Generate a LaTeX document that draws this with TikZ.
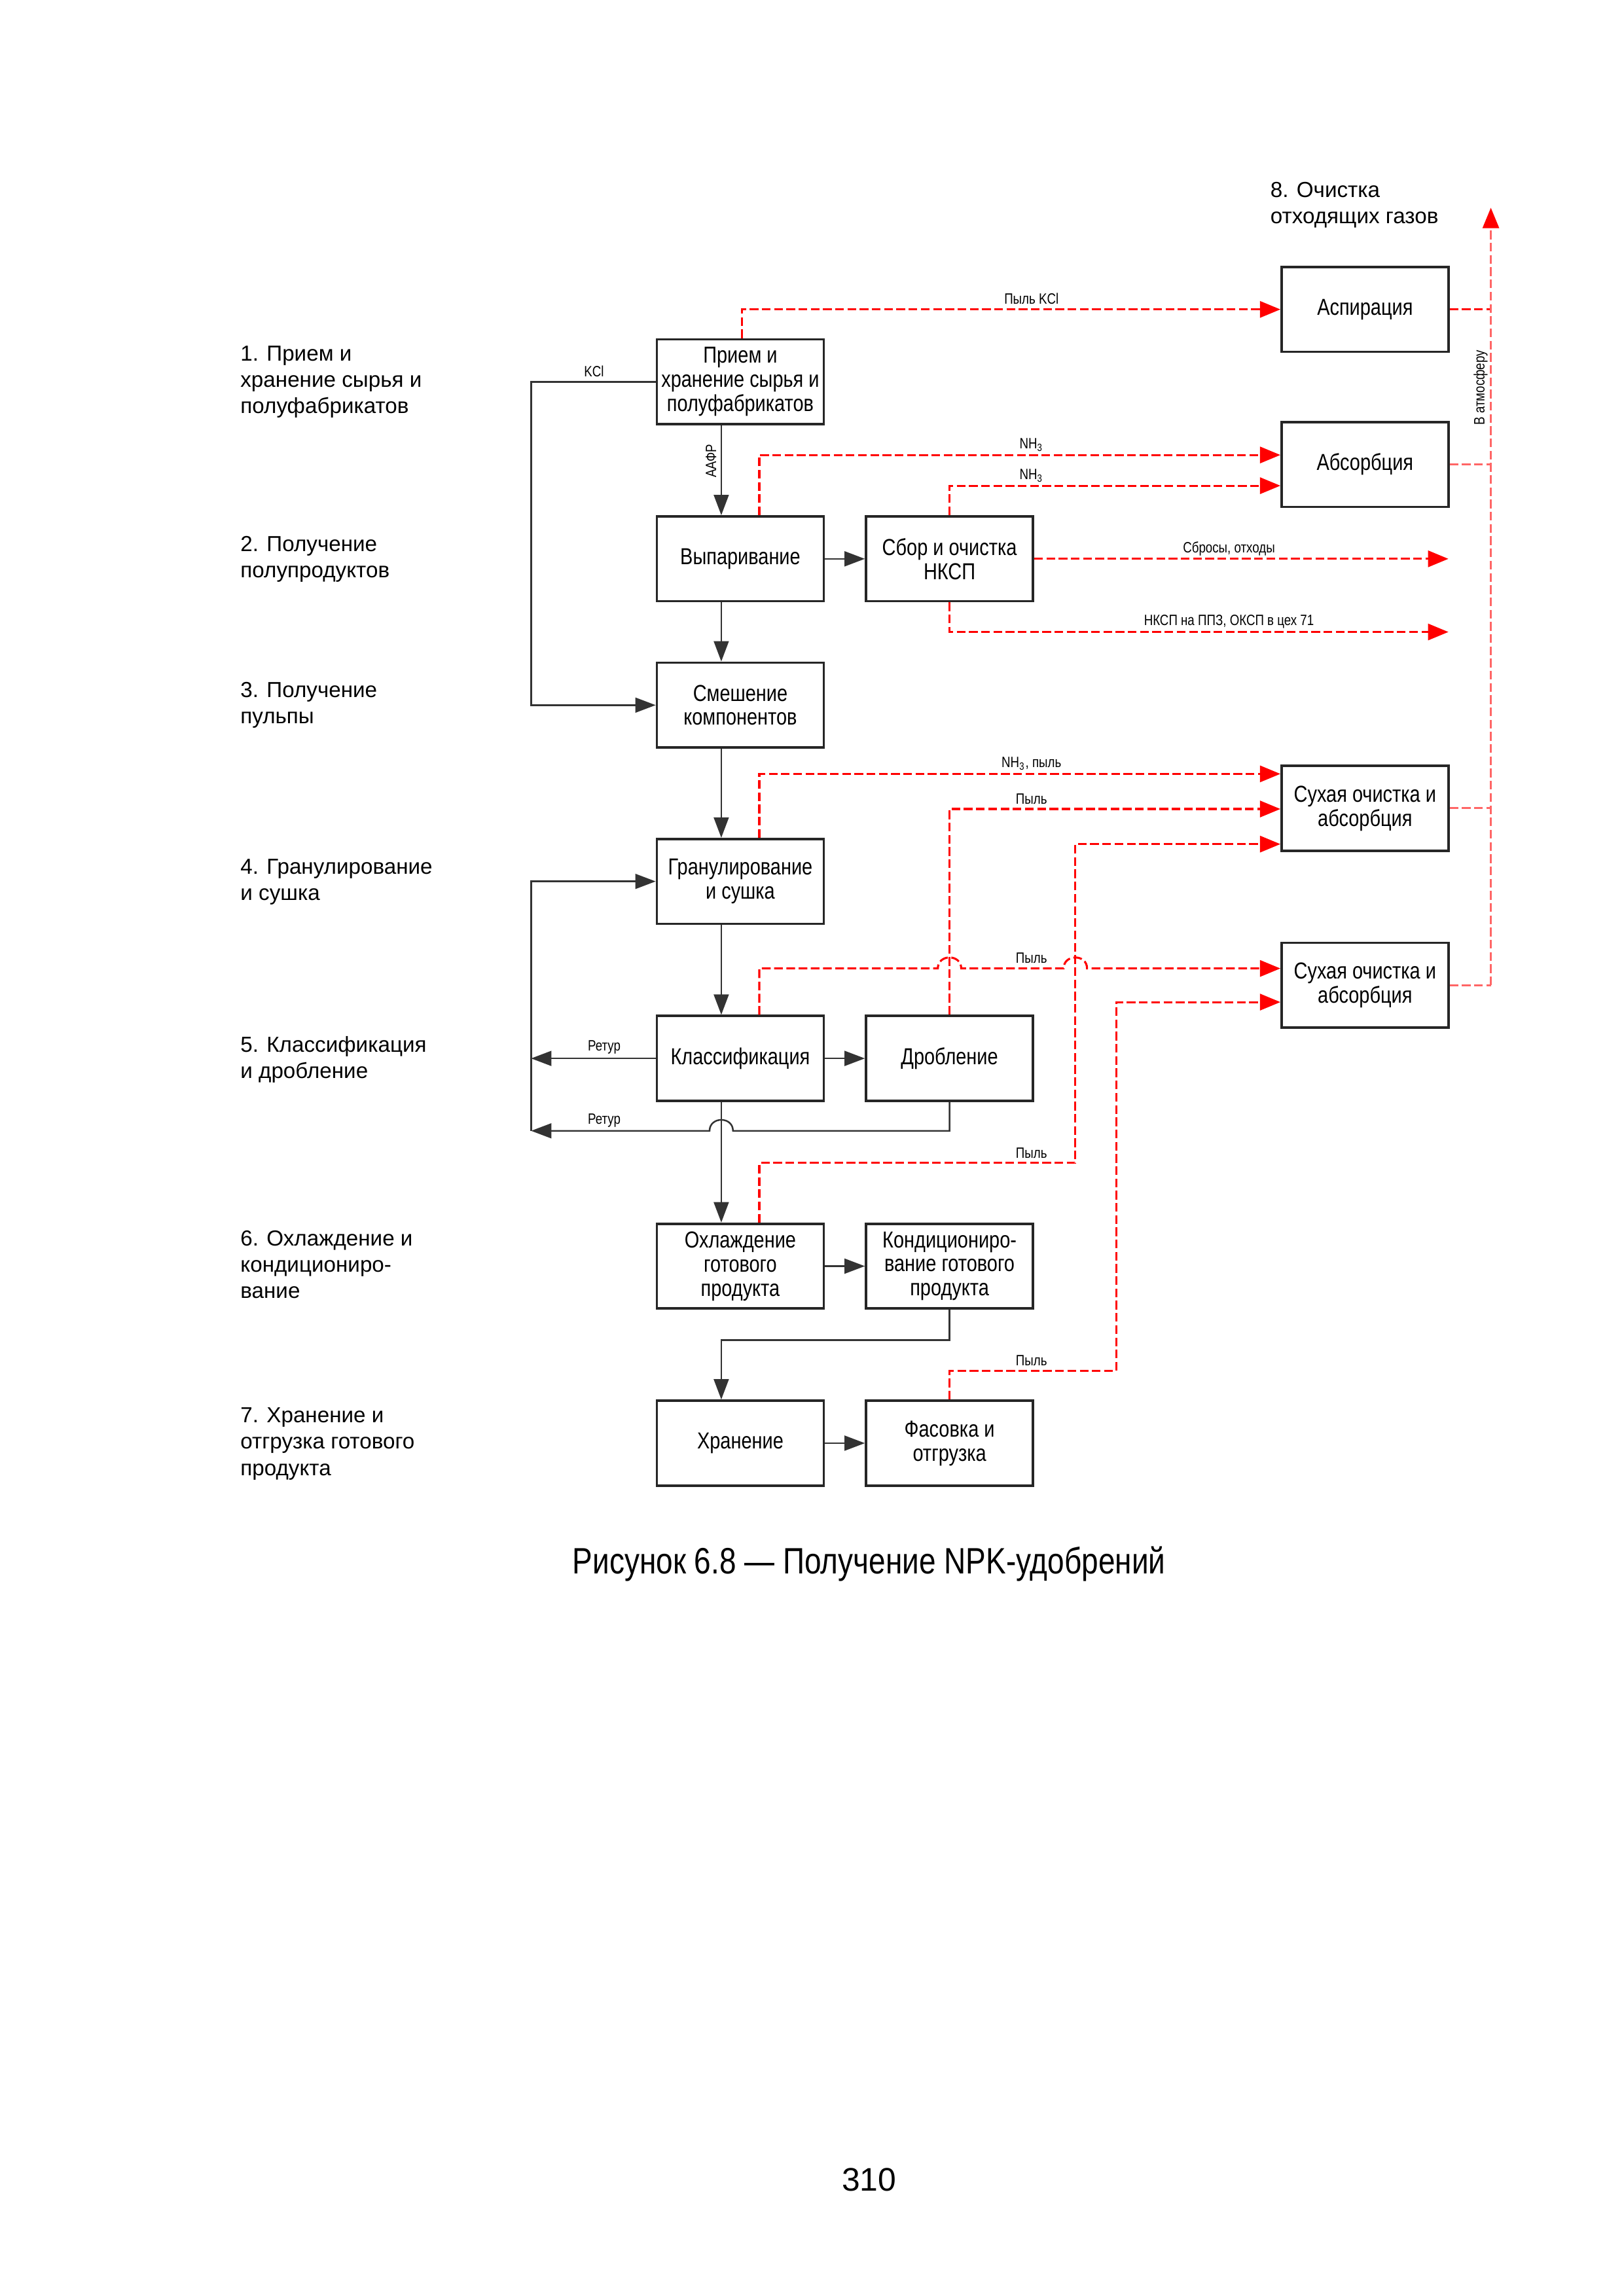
\documentclass[tikz,border=0pt]{standalone}
\usepackage{fontspec}
\setmainfont{Liberation Sans}
\newfontfamily\nar[FakeStretch=0.82]{Liberation Sans}
\usetikzlibrary{arrows.meta}
\definecolor{rd}{rgb}{1,0,0}
\begin{document}
\begin{tikzpicture}[x=0.018919cm, y=-0.018919cm,
  box/.style={draw=black!85, line width=0.9pt, minimum width=2.157cm, minimum height=1.097cm,
    inner sep=1pt, align=center, font=\nar\fontsize{8.5}{8.9}\selectfont},
  bln/.style={draw=black!80, line width=0.6pt},
  blk/.style={bln, -{Triangle[length=7.5pt,width=5.5pt]}},
  rln/.style={draw=rd, line width=0.75pt, dash pattern=on 3.2pt off 1.3pt},
  rarr/.style={rln, -{Triangle[length=7.5pt,width=6pt]}},
  pln/.style={draw=rd!60, line width=0.7pt, dash pattern=on 3.2pt off 1.3pt},
  lbl/.style={font=\nar\fontsize{5.5}{6}\selectfont, inner sep=0pt},
  stage/.style={anchor=north west, inner sep=0pt, align=left, font=\fontsize{8}{9.65}\selectfont}
]
\useasboundingbox (0,0) rectangle (1110,1569.5);

% stage labels
\node[stage] (s1) at (164,236) {1. Прием и\\хранение сырья и\\полуфабрикатов};
\node[stage] (s2) at (164,366) {2. Получение\\полупродуктов};
\node[stage] (s3) at (164,466) {3. Получение\\пульпы};
\node[stage] (s4) at (164,587) {4. Гранулирование\\и сушка};
\node[stage] (s5) at (164,708) {5. Классификация\\и дробление};
\node[stage] (s6) at (164,841) {6. Охлаждение и\\кондициониро-\\вание};
\node[stage] (s7) at (164,962) {7. Хранение и\\отгрузка готового\\продукта};
\node[stage] (s8) at (868,124) {8. Очистка\\отходящих газов};

% boxes
\node[box] (priem) at (506,261) {Прием и\\хранение сырья и\\полуфабрикатов};
\node[box] (vyp)   at (506,382) {Выпаривание};
\node[box] (sbor)  at (649,382) {Сбор и очистка\\НКСП};
\node[box] (smesh) at (506,482) {Смешение\\компонентов};
\node[box] (gran)  at (506,602.5) {Гранулирование\\и сушка};
\node[box] (klass) at (506,723.5) {Классификация};
\node[box] (drob)  at (649,723.5) {Дробление};
\node[box] (ohl)   at (506,865.5) {Охлаждение\\готового\\продукта};
\node[box] (kond)  at (649,865.5) {Кондициониро-\\вание готового\\продукта};
\node[box] (hran)  at (506,986.5) {Хранение};
\node[box] (fas)   at (649,986.5) {Фасовка и\\отгрузка};
\node[box] (asp)   at (933,211.5) {Аспирация};
\node[box] (abs)   at (933,317.5) {Абсорбция};
\node[box] (suh1)  at (933,552.5) {Сухая очистка и\\абсорбция};
\node[box] (suh2)  at (933,673.5) {Сухая очистка и\\абсорбция};

% helper coordinates
\coordinate (cA) at (493,0);
\coordinate (c507) at (507,0);
\coordinate (c519) at (519,0);
\coordinate (ret) at (363,0);
\coordinate (kcl) at (363,300);
\coordinate (rj1) at (501,773);
\coordinate (rj2) at (485,773);
\coordinate (kb) at (493,916);
\coordinate (y311) at (0,311);
\coordinate (y332) at (0,332);
\coordinate (y529) at (0,529);
\coordinate (y553) at (0,553);
\coordinate (y577) at (0,577);
\coordinate (y685) at (0,685);
\coordinate (out1) at (990,382);
\coordinate (out2) at (990,432);
\coordinate (j1a) at (641,662);
\coordinate (j1b) at (657,662);
\coordinate (j2a) at (727,662);
\coordinate (j2b) at (743,662);
\coordinate (p795a) at (519,795);
\coordinate (p795b) at (735,795);
\coordinate (p937a) at (649,937);
\coordinate (p937b) at (763,937);
\coordinate (atm) at (1019,142);

% black connectors
\draw[blk] (priem.west) -| (kcl) |- (smesh.west);
\node[lbl] (lkcl) at (406,254) {KCl};
\draw[blk] (priem.south -| cA) -- (vyp.north -| cA);
\node[lbl, rotate=90] (laf) at (486,315) {ААФР};
\draw[blk] (vyp.east) -- (sbor.west);
\draw[blk] (vyp.south -| cA) -- (smesh.north -| cA);
\draw[blk] (smesh.south -| cA) -- (gran.north -| cA);
\draw[blk] (ret |- rj2) |- (gran.west);
\draw[blk] (gran.south -| cA) -- (klass.north -| cA);
\draw[blk] (klass.east) -- (drob.west);
\draw[blk] (klass.west) -- (klass.west -| ret);
\node[lbl] (lret1) at (413,716) {Ретур};
\draw[blk] (drob.south) |- (rj1) .. controls (501,763) and (485,763) .. (rj2) -- (ret |- rj2);
\node[lbl] (lret2) at (413,766) {Ретур};
\draw[blk] (klass.south -| cA) -- (ohl.north -| cA);
\draw[blk] (ohl.east) -- (kond.west);
\draw[blk] (kond.south) |- (kb) -- (hran.north -| cA);
\draw[blk] (hran.east) -- (fas.west);

% red connectors
\draw[rarr] (priem.north -| c507) |- (asp.west);
\node[lbl] (l1) at (705,204) {Пыль KCl};
\draw[rarr] (vyp.north -| c519) |- (abs.west |- y311);
\node[lbl] (l2) at (705,304) {NH\textsubscript{3}};
\draw[rarr] (sbor.north) |- (abs.west |- y332);
\node[lbl] (l3) at (705,325) {NH\textsubscript{3}};
\draw[rarr] (sbor.east) -- (out1);
\node[lbl] (l4) at (840,375) {Сбросы, отходы};
\draw[rarr] (sbor.south) |- (out2);
\node[lbl] (l5) at (840,425) {НКСП на ППЗ, ОКСП в цех 71};
\draw[rarr] (gran.north -| c519) |- (suh1.west |- y529);
\node[lbl] (l6) at (705,522) {NH\textsubscript{3}, пыль};
\draw[rarr] (drob.north) |- (suh1.west |- y553);
\node[lbl] (l7) at (705,546) {Пыль};
\draw[rarr] (klass.north -| c519) |- (j1a) .. controls (641,652) and (657,652) .. (j1b) -- (j2a)
   .. controls (727,652) and (743,652) .. (j2b) -- (suh2.west |- j2b);
\node[lbl] (l8) at (705,655) {Пыль};
\draw[rarr] (ohl.north -| c519) -- (p795a) -- (p795b) |- (suh1.west |- y577);
\node[lbl] (l9) at (705,788) {Пыль};
\draw[rarr] (fas.north) -- (p937a) -- (p937b) |- (suh2.west |- y685);
\node[lbl] (l10) at (705,930) {Пыль};

% exhaust to atmosphere
\draw[rln] (asp.east) -- (asp.east -| atm);
\draw[pln] (abs.east) -- (abs.east -| atm);
\draw[pln] (suh1.east) -- (suh1.east -| atm);
\draw[pln] (suh2.east) -- (suh2.east -| atm);
\draw[pln, -{Triangle[length=7.5pt,width=6pt,color=rd]}] (suh2.east -| atm) -- (atm);
\node[lbl, rotate=90] (latm) at (1012,265) {В атмосферу};

% caption and page number
\node[font=\nar\fontsize{13.5}{16}\selectfont, inner sep=0pt] (cap) at (594,1069) {Рисунок 6.8 — Получение NPK-удобрений};
\node[font=\fontsize{12}{14}\selectfont, inner sep=0pt] (pg) at (594,1490) {310};
\end{tikzpicture}
\end{document}
